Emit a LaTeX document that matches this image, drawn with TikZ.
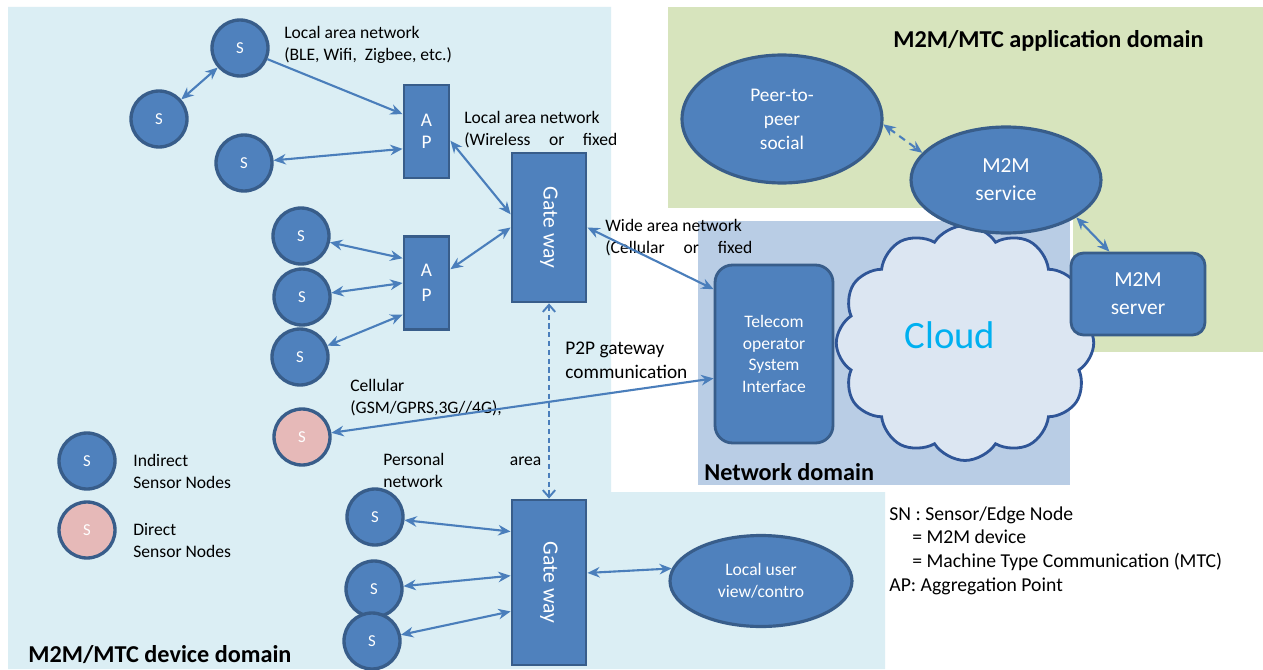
\documentclass[tikz,border=0pt]{standalone}
\usepackage{fontspec}
\usepackage{graphicx}
\setmainfont{Carlito}
\usetikzlibrary{shapes.geometric,shapes.symbols,arrows.meta}
\definecolor{nodefill}{HTML}{4F81BD}
\definecolor{nodeline}{HTML}{385D8A}
\definecolor{linkc}{HTML}{4A7EBB}
\definecolor{devbg}{HTML}{DBEEF4}
\definecolor{appbg}{HTML}{D7E4BD}
\definecolor{netbg}{HTML}{B9CDE5}
\definecolor{cloudfill}{HTML}{DCE6F2}
\definecolor{cloudline}{HTML}{2F5597}
\definecolor{pinkfill}{HTML}{E6B9B8}
\definecolor{cloudtext}{HTML}{00B0F0}
\begin{document}
\begin{tikzpicture}[x=0.02cm,y=-0.02cm,
  sensor/.style={circle,draw=nodeline,fill=nodefill,line width=1.9pt,minimum size=1.12cm,inner sep=0pt,text=white,font=\fontsize{9.5}{10}\selectfont},
  direct/.style={sensor,fill=pinkfill},
  boxnode/.style={rectangle,draw=nodeline,fill=nodefill,line width=1.6pt,inner sep=0pt,text=white,align=center},
  apbox/.style={boxnode,minimum width=0.9cm,minimum height=1.86cm,font=\fontsize{11}{12.5}\selectfont},
  gwbox/.style={boxnode,minimum width=1.48cm,font=\fontsize{12.3}{14}\selectfont},
  roundbox/.style={boxnode,rounded corners=0.35cm},
  oval/.style={ellipse,draw=nodeline,fill=nodefill,line width=1.8pt,inner sep=0pt,text=white,align=center},
  lbl/.style={inner sep=0pt,anchor=north west,align=left,font=\fontsize{10}{12.3}\selectfont},
  biglbl/.style={inner sep=0pt,anchor=north west,align=left,font=\fontsize{11}{13.3}\selectfont},
  title/.style={inner sep=0pt,anchor=west,font=\bfseries\fontsize{13.8}{15}\selectfont},
  link/.style={draw=linkc,line width=1.2pt,{Stealth[length=7pt,width=6pt]}-{Stealth[length=7pt,width=6pt]}},
  onelink/.style={draw=linkc,line width=1.2pt,-{Stealth[length=7pt,width=6pt]}},
  dlink/.style={draw=linkc,line width=1.1pt,dash pattern=on 3pt off 2pt,{Straight Barb[length=4pt,width=7pt]}-{Straight Barb[length=4pt,width=7pt]}},
  puffline/.style={draw=cloudline,line width=1.6pt}
]
\useasboundingbox (0,0) rectangle (1263,669);
% backgrounds
\fill[white] (0,0) rectangle (1263,669);
\fill[devbg] (8,7) -- (611,7) -- (611,492) -- (885,492) -- (885,669) -- (8,669) -- cycle;
\fill[appbg] (668,7) rectangle (1263,352);
\fill[white] (660,208) rectangle (1073,492);
\fill[netbg] (698,221) rectangle (1070,485);

% cloud
\node[cloud,cloud puffs=12,cloud puff arc=115,cloud ignores aspect,draw=cloudline,fill=cloudfill,line width=1.6pt,minimum width=5.15cm,minimum height=4.7cm,inner sep=0pt] (CLD) at (965,343) {};
\node[text=cloudtext,font=\fontsize{22}{24}\selectfont,inner sep=0pt] (CLT) at (950,335) {Cloud};

% network & application nodes
\node[roundbox,minimum width=2.36cm,minimum height=3.56cm,font=\fontsize{10}{12.2}\selectfont] (TEL) at (774,354) {Telecom\\operator\\System\\Interface};
\node[oval,minimum width=4.0cm,minimum height=2.56cm,font=\fontsize{11}{13.6}\selectfont] (PEER) at (782,119) {Peer-to-\\peer\\social};
\node[oval,minimum width=3.8cm,minimum height=2.12cm,font=\fontsize{12.2}{16}\selectfont] (SERV) at (1006,180) {M2M\\service};
\node[roundbox,rounded corners=0.25cm,minimum width=2.68cm,minimum height=1.64cm,font=\fontsize{12.2}{16}\selectfont] (SRV) at (1138,294) {M2M\\server};

% device domain nodes
\node[sensor] (S1) at (240,48) {S};
\node[sensor] (S2) at (159,119) {S};
\node[sensor] (S3) at (244,163) {S};
\node[sensor] (S4) at (301,236) {S};
\node[sensor] (S5) at (302,297) {S};
\node[sensor] (S6) at (300,357) {S};
\node[direct] (S7) at (302,437) {S};
\node[sensor] (S8) at (375,517) {S};
\node[sensor] (S9) at (374,589) {S};
\node[sensor] (S10) at (372,641) {S};
\node[sensor] (L1) at (87,461) {S};
\node[direct] (L2) at (87,530) {S};

\node[apbox] (AP1) at (426.5,131.5) {A\\P};
\node[apbox,font=\fontsize{11}{14}\selectfont] (AP2) at (426.5,283) {A\\P};
\node[gwbox,minimum height=2.98cm] (GW1) at (549,227.5) {\rotatebox{-90}{Gate way}};
\node[gwbox,minimum height=3.3cm] (GW2) at (549,582.5) {\rotatebox{-90}{Gate way}};
\node[oval,minimum width=3.64cm,minimum height=1.82cm,font=\fontsize{10}{12.5}\selectfont] (LOC) at (761,581) {Local user\\view/contro};

% labels
\node[lbl] (lanA) at (284,26) {Local area network\\(BLE, Wifi,\ \ Zigbee, etc.)};
\node[lbl] (lanB) at (464,111) {Local area network\\\makebox[3.06cm][s]{(Wireless or fixed}};
\node[lbl] (wan) at (605,219) {Wide area network\\\makebox[2.94cm][s]{(Cellular or fixed}};
\node[biglbl] (ptp) at (565,342) {P2P gateway\\communication};
\node[lbl] (cell) at (350,379) {Cellular\\(GSM/GPRS,3G//4G),};
\node[lbl] (pers) at (383,453) {\makebox[3.16cm][s]{Personal area}\\network};
\node[lbl] (leg1) at (133,454) {Indirect\\Sensor Nodes};
\node[lbl] (leg2) at (133,523) {Direct\\Sensor Nodes};
\node[biglbl,font=\fontsize{11.2}{13.6}\selectfont] (sn) at (889,506) {SN : Sensor/Edge Node\\\hspace*{0.46cm}= M2M device\\\hspace*{0.46cm}= Machine Type Communication (MTC)\\AP: Aggregation Point};
\node[title] (devt) at (28,655) {M2M/MTC device domain};
\node[title] (nett) at (704,472) {Network domain};
\node[title] (appt) at (893,41) {M2M/MTC application domain};

% connectors
\draw[link] (S1) -- (S2);
\draw[onelink] (S1) -- (AP1.144);
\draw[link] (S3) -- (AP1.216);
\draw[link] (AP1.339) -- (GW1.161);
\draw[link] (S4) -- (AP2.134);
\draw[link] (S5) -- (AP2.west);
\draw[link] (S6) -- (AP2.233);
\draw[link] (AP2.30) -- (GW1.west);
\draw[link] (GW1.east) -- (TEL.133);
\draw[dlink] (GW1.south) -- (GW2.north);
\draw[link] (S7) -- (TEL.202);
\draw[link] (S8) -- (GW2.127);
\draw[link] (S9) -- (GW2.170);
\draw[link] (S10) -- (GW2.217);
\draw[link] (GW2.14) -- (LOC.172);
\draw[link,dash pattern=on 4pt off 3pt] (PEER.-3) -- (SERV.162);
\draw[link] (SERV.-28) -- (SRV.124);
\end{tikzpicture}
\end{document}
